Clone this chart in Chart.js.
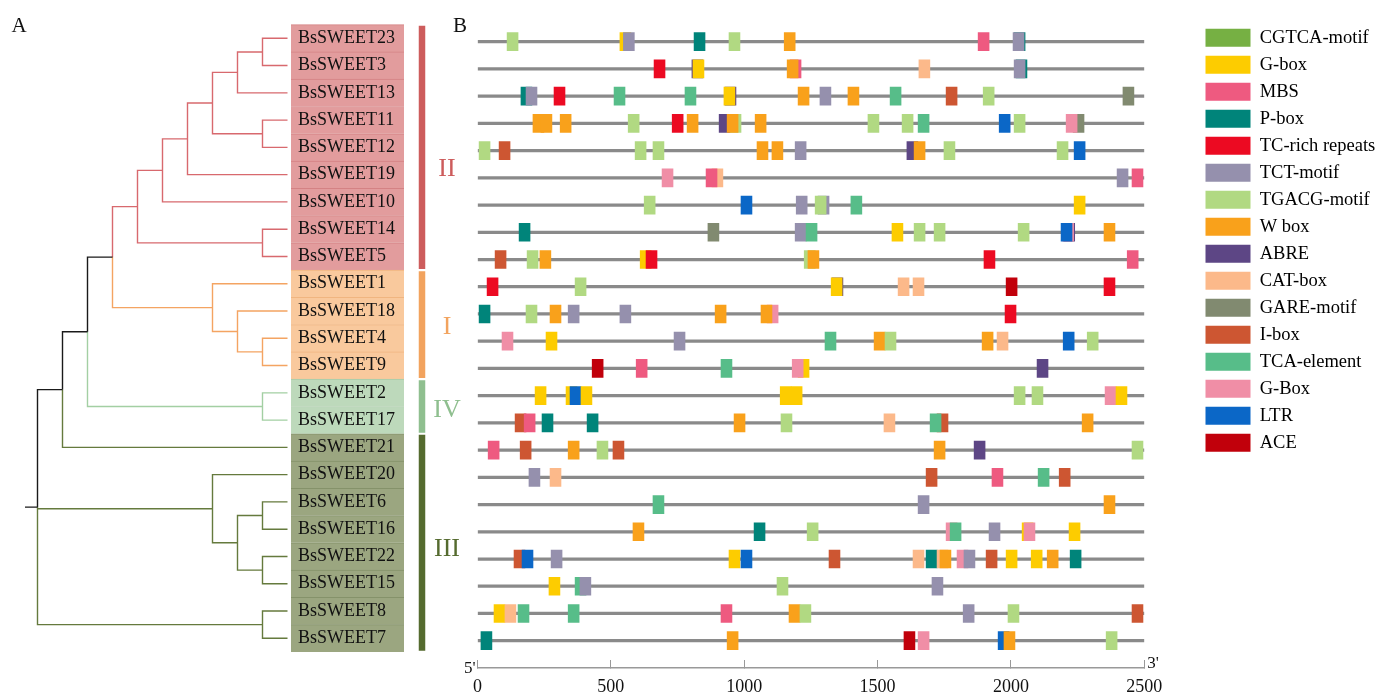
<!DOCTYPE html>
<html>
<head>
<meta charset="utf-8">
<script src="https://cdn.jsdelivr.net/npm/chart.js@4.4.1/dist/chart.umd.min.js"></script>
<style>
  html, body { margin: 0; padding: 0; background: #fff; overflow: hidden; }
  #tree { position: absolute; left: 0; top: 0; }
  #motif { position: absolute; left: 440px; top: 0; }
</style>
</head>
<body>
<canvas id="tree" width="470" height="695"></canvas>
<canvas id="motif" width="937" height="695"></canvas>
<script>
// genes, top to bottom
const genes = [
  "BsSWEET23", "BsSWEET3", "BsSWEET13", "BsSWEET11", "BsSWEET12", "BsSWEET19",
  "BsSWEET10", "BsSWEET14", "BsSWEET5", "BsSWEET1", "BsSWEET18", "BsSWEET4",
  "BsSWEET9", "BsSWEET2", "BsSWEET17", "BsSWEET21", "BsSWEET20", "BsSWEET6",
  "BsSWEET16", "BsSWEET22", "BsSWEET15", "BsSWEET8", "BsSWEET7",
];
const geneClade = [
  "II", "II", "II", "II", "II", "II", "II", "II", "II",
  "I", "I", "I", "I", "IV", "IV",
  "III", "III", "III", "III", "III", "III", "III", "III",
];

// clades
const clades = ["II", "I", "IV", "III"];
const cladeLabelRow = [4.8, 10.6, 13.65, 18.75];
const cladeBranchColor = ["#d8696e", "#f4a462", "#a3cfa3", "#657a3d"];
const cladeBoxColor = ["#e29c9d", "#f9c99d", "#bdd9bb", "#9ba680"];
const cladeBoxLine = ["#d48284", "#f0b580", "#a8caa6", "#85926a"];
const cladeBarColor = ["#cd5c5c", "#f2a35e", "#8fbf8f", "#556b2f"];

// tree: [depth, child, child, ...], leaves sit at depth 11
const tree = [1,
  [2,
    [3,
      [4,
        [5,
          [6,
            [7,
              [8, [9, [10, "BsSWEET23", "BsSWEET3"], "BsSWEET13"], [10, "BsSWEET11", "BsSWEET12"]],
              "BsSWEET19"],
            "BsSWEET10"],
          [10, "BsSWEET14", "BsSWEET5"]],
        [8, "BsSWEET1", [9, "BsSWEET18", [10, "BsSWEET4", "BsSWEET9"]]]],
      [10, "BsSWEET2", "BsSWEET17"]],
    "BsSWEET21"],
  [8, "BsSWEET20", [9, [10, "BsSWEET6", "BsSWEET16"], [10, "BsSWEET22", "BsSWEET15"]]],
  [10, "BsSWEET8", "BsSWEET7"]];

// motif types and colours (legend order)
const motifTypes = [
  "CGTCA-motif", "G-box", "MBS", "P-box", "TC-rich repeats", "TCT-motif",
  "TGACG-motif", "W box", "ABRE", "CAT-box", "GARE-motif", "I-box",
  "TCA-element", "G-Box", "LTR", "ACE",
];
const motifColors = [
  "#76b043", "#fdcc00", "#ee5a80", "#00847a", "#ec0a22", "#9590ad",
  "#b1d982", "#f9a11b", "#5d4685", "#fcb98a", "#818a70", "#cd5632",
  "#57bd89", "#f08ea6", "#0b67c7", "#c1000b",
];
const promoterLength = 2500;
const motifSpan = 41;

// motif start positions per gene (same order as genes), drawn in list order
const motifRows = [
  [[111, "TGACG-motif"], [534, "G-box"], [547, "TCT-motif"], [812, "P-box"], [943, "TGACG-motif"], [1150, "W box"], [1877, "MBS"], [2012, "P-box"], [2008, "TCT-motif"]],
  [[662, "TC-rich repeats"], [804, "ABRE"], [808, "G-box"], [1172, "MBS"], [1161, "W box"], [1655, "CAT-box"], [2019, "P-box"], [2012, "TCT-motif"]],
  [[163, "P-box"], [182, "TCT-motif"], [287, "TC-rich repeats"], [512, "TCA-element"], [778, "TCA-element"], [928, "ABRE"], [924, "G-box"], [1202, "W box"], [1284, "TCT-motif"], [1389, "W box"], [1547, "TCA-element"], [1757, "I-box"], [1896, "TGACG-motif"], [2420, "GARE-motif"]],
  [[208, "W box"], [238, "W box"], [310, "W box"], [565, "TGACG-motif"], [730, "TC-rich repeats"], [786, "W box"], [906, "ABRE"], [947, "TGACG-motif"], [936, "W box"], [1041, "W box"], [1464, "TGACG-motif"], [1592, "TGACG-motif"], [1652, "TCA-element"], [1956, "LTR"], [2012, "TGACG-motif"], [2233, "GARE-motif"], [2207, "G-Box"]],
  [[6, "TGACG-motif"], [81, "I-box"], [591, "TGACG-motif"], [658, "TGACG-motif"], [1048, "W box"], [1104, "W box"], [1191, "TCT-motif"], [1610, "ABRE"], [1637, "W box"], [1749, "TGACG-motif"], [2173, "TGACG-motif"], [2237, "LTR"]],
  [[692, "G-Box"], [879, "CAT-box"], [857, "MBS"], [2398, "TCT-motif"], [2454, "MBS"]],
  [[625, "TGACG-motif"], [988, "LTR"], [1195, "TCT-motif"], [1277, "TCT-motif"], [1266, "TGACG-motif"], [1400, "TCA-element"], [2237, "G-box"]],
  [[156, "P-box"], [864, "GARE-motif"], [1191, "TCT-motif"], [1232, "TCA-element"], [1554, "G-box"], [1637, "TGACG-motif"], [1712, "TGACG-motif"], [2027, "TGACG-motif"], [2198, "ABRE"], [2194, "G-Box"], [2188, "LTR"], [2349, "W box"]],
  [[66, "I-box"], [186, "TGACG-motif"], [234, "W box"], [610, "G-box"], [632, "TC-rich repeats"], [1225, "TGACG-motif"], [1239, "W box"], [1899, "TC-rich repeats"], [2436, "MBS"]],
  [[36, "TC-rich repeats"], [366, "TGACG-motif"], [1329, "ABRE"], [1326, "G-box"], [1577, "CAT-box"], [1633, "CAT-box"], [1982, "ACE"], [2349, "TC-rich repeats"]],
  [[6, "P-box"], [182, "TGACG-motif"], [272, "W box"], [340, "TCT-motif"], [534, "TCT-motif"], [891, "W box"], [1086, "G-Box"], [1063, "W box"], [1978, "TC-rich repeats"]],
  [[92, "G-Box"], [257, "G-box"], [737, "TCT-motif"], [1303, "TCA-element"], [1487, "W box"], [1528, "TGACG-motif"], [1892, "W box"], [1948, "CAT-box"], [2196, "LTR"], [2286, "TGACG-motif"]],
  [[430, "ACE"], [595, "MBS"], [913, "TCA-element"], [1202, "G-box"], [1180, "G-Box"], [2098, "ABRE"]],
  [[216, "G-box"], [332, "G-box"], [347, "LTR"], [388, "G-box"], [1135, "G-box"], [1176, "G-box"], [2012, "TGACG-motif"], [2079, "TGACG-motif"], [2353, "G-Box"], [2394, "G-box"]],
  [[141, "I-box"], [175, "MBS"], [242, "P-box"], [411, "P-box"], [962, "W box"], [1138, "TGACG-motif"], [1524, "CAT-box"], [1723, "I-box"], [1697, "TCA-element"], [2267, "W box"]],
  [[40, "MBS"], [160, "I-box"], [340, "W box"], [448, "TGACG-motif"], [508, "I-box"], [1712, "W box"], [1862, "ABRE"], [2454, "TGACG-motif"]],
  [[193, "TCT-motif"], [272, "CAT-box"], [1682, "I-box"], [1929, "MBS"], [2102, "TCA-element"], [2181, "I-box"]],
  [[658, "TCA-element"], [1652, "TCT-motif"], [2349, "W box"]],
  [[583, "W box"], [1037, "P-box"], [1236, "TGACG-motif"], [1757, "G-Box"], [1772, "TCA-element"], [1918, "TCT-motif"], [2042, "G-box"], [2049, "G-Box"], [2218, "G-box"]],
  [[137, "I-box"], [167, "LTR"], [276, "TCT-motif"], [943, "G-box"], [988, "LTR"], [1318, "I-box"], [1633, "CAT-box"], [1682, "P-box"], [1723, "CAT-box"], [1734, "W box"], [1798, "G-Box"], [1824, "TCT-motif"], [1907, "I-box"], [1982, "G-box"], [2076, "G-box"], [2136, "W box"], [2222, "P-box"]],
  [[268, "G-box"], [366, "TCA-element"], [384, "TCT-motif"], [1123, "TGACG-motif"], [1704, "TCT-motif"]],
  [[62, "G-box"], [103, "CAT-box"], [152, "TCA-element"], [340, "TCA-element"], [913, "MBS"], [1168, "W box"], [1209, "TGACG-motif"], [1821, "TCT-motif"], [1989, "TGACG-motif"], [2454, "I-box"]],
  [[13, "P-box"], [936, "W box"], [1599, "ACE"], [1652, "G-Box"], [1952, "LTR"], [1974, "W box"], [2357, "TGACG-motif"]],
];

const serif = "'Liberation Serif', 'Times New Roman', serif";

// ---------- panel A: tree ----------
const leafDepth = 11;
const boxFrom = 11.14;
const boxTo = 15.66;
const cladeBarX = 16.38;
const cladeTextX = 17.38;

function layoutTree(node) {
  if (typeof node === "string") {
    const i = genes.indexOf(node);
    return { x: leafDepth, y: i, clades: [geneClade[i]], children: [] };
  }
  const [depth, ...kids] = node;
  const children = kids.map(layoutTree);
  const y = (children[0].y + children[children.length - 1].y) / 2;
  const cl = [...new Set(children.flatMap((c) => c.clades))];
  return { x: depth, y: y, clades: cl, children: children };
}

const root = layoutTree(tree);
const branchSets = {};
function addPath(color, pts) {
  if (!branchSets[color]) branchSets[color] = [];
  branchSets[color].push(...pts, { x: null, y: null });
}
function collectBranches(n) {
  n.children.forEach((c) => {
    const color = c.clades.length === 1 ? cladeBranchColor[clades.indexOf(c.clades[0])] : "#1a1a1a";
    addPath(color, [{ x: n.x, y: n.y }, { x: n.x, y: c.y }, { x: c.x, y: c.y }]);
    collectBranches(c);
  });
}
addPath("#1a1a1a", [{ x: 0.5, y: root.y }, { x: root.x, y: root.y }]);
collectBranches(root);

const treeDatasets = [];
Object.keys(branchSets).forEach((color) => {
  treeDatasets.push({
    type: "line",
    data: branchSets[color],
    borderColor: color,
    borderWidth: 1.4,
    pointRadius: 0,
    spanGaps: false,
    tension: 0,
    borderJoinStyle: "miter",
    order: 1,
  });
});

// clade bars
clades.forEach((cl, k) => {
  const rows = genes.map((g, i) => i).filter((i) => geneClade[i] === cl);
  treeDatasets.push({
    type: "line",
    data: [{ x: cladeBarX, y: rows[0] - 0.46 }, { x: cladeBarX, y: rows[rows.length - 1] + 0.46 }],
    borderColor: cladeBarColor[k],
    borderWidth: 6.5,
    borderCapStyle: "butt",
    pointRadius: 0,
    order: 1,
  });
});

// label boxes
treeDatasets.push({
  type: "bar",
  data: genes.map((g, i) => ({ x: [boxFrom, boxTo], y: i })),
  backgroundColor: geneClade.map((c) => cladeBoxColor[clades.indexOf(c)]),
  borderColor: geneClade.map((c) => cladeBoxLine[clades.indexOf(c)]),
  borderWidth: { top: 1, bottom: 0, left: 0, right: 0 },
  borderSkipped: false,
  barThickness: 27.27,
  grouped: false,
  order: 3,
});

const treeText = {
  id: "treeText",
  afterDatasetsDraw(chart) {
    const { ctx, scales } = chart;
    ctx.save();
    ctx.textBaseline = "middle";
    ctx.textAlign = "left";
    ctx.fillStyle = "#111";
    ctx.font = "18px " + serif;
    genes.forEach((g, i) => {
      ctx.fillText(g, scales.x.getPixelForValue(boxFrom) + 7, scales.y.getPixelForValue(i));
    });
    ctx.textAlign = "center";
    ctx.font = "26px " + serif;
    clades.forEach((cl, k) => {
      ctx.fillStyle = cladeBarColor[k];
      ctx.fillText(cl, scales.x.getPixelForValue(cladeTextX), scales.y.getPixelForValue(cladeLabelRow[k]));
    });
    ctx.fillStyle = "#111";
    ctx.font = "21px " + serif;
    ctx.fillText("A", 19, 26);
    ctx.fillText("B", 460, 26);
    ctx.restore();
  },
};

new Chart(document.getElementById("tree"), {
  type: "bar",
  data: { datasets: treeDatasets },
  options: {
    indexAxis: "y",
    responsive: false,
    animation: false,
    events: [],
    layout: { padding: 0 },
    plugins: { legend: { display: false }, tooltip: { enabled: false } },
    scales: {
      x: { type: "linear", min: -0.5, max: 18.3, display: false },
      y: { type: "linear", min: -1.404, max: 24.08, reverse: true, offset: false, display: false },
    },
  },
  plugins: [treeText],
});

// ---------- panel B: motifs ----------
const backbone = genes.map((g, i) => ({ x: [0, promoterLength], y: i }));
const motifData = [];
const motifFill = [];
motifRows.forEach((row, i) => {
  row.forEach(([start, type]) => {
    motifData.push({ x: [start, start + motifSpan], y: i });
    motifFill.push(motifColors[motifTypes.indexOf(type)]);
  });
});

const endLabels = {
  id: "endLabels",
  afterDraw(chart) {
    const { ctx, chartArea } = chart;
    ctx.save();
    ctx.fillStyle = "#111";
    ctx.font = "17px " + serif;
    ctx.textBaseline = "middle";
    ctx.textAlign = "right";
    ctx.fillText("5'", chartArea.left - 2, chartArea.bottom + 1);
    ctx.textAlign = "left";
    ctx.fillText("3'", chartArea.right + 3, chartArea.bottom - 4);
    ctx.restore();
  },
};

new Chart(document.getElementById("motif"), {
  type: "bar",
  data: {
    datasets: [
      {
        data: motifData,
        backgroundColor: motifFill,
        borderWidth: 0,
        barThickness: 18,
        grouped: false,
        order: 1,
      },
      {
        data: backbone,
        backgroundColor: "#8a8a8a",
        borderWidth: 0,
        barThickness: 2.6,
        grouped: false,
        order: 2,
      },
    ],
  },
  options: {
    indexAxis: "y",
    responsive: false,
    animation: false,
    events: [],
    layout: { padding: { left: 37.5, top: 20, right: 0, bottom: 0 } },
    plugins: {
      tooltip: { enabled: false },
      legend: {
        position: "right",
        align: "start",
        fullSize: false,
        maxWidth: 180,
        labels: {
          boxWidth: 45,
          boxHeight: 18,
          padding: 8.5,
          color: "#1a1a1a",
          font: { family: serif, size: 18.5 },
          generateLabels: () =>
            motifTypes.map((t, i) => ({
              text: t,
              fillStyle: motifColors[i],
              strokeStyle: motifColors[i],
              lineWidth: 0,
              hidden: false,
              datasetIndex: 0,
            })),
        },
      },
    },
    scales: {
      x: {
        type: "linear",
        position: "bottom",
        min: 0,
        max: promoterLength,
        ticks: {
          stepSize: 500,
          padding: 16,
          color: "#111",
          maxRotation: 0,
          font: { family: serif, size: 18 },
          callback: (v) => String(v),
        },
        grid: { drawOnChartArea: false, drawTicks: true, tickLength: -8, color: "#999", lineWidth: 1 },
        border: { display: true, color: "#999", width: 1.5 },
        afterFit(s) { s.height = 27; },
      },
      y: { type: "linear", min: -0.797, max: 23.003, reverse: true, offset: false, display: false },
      yR: {
        type: "linear",
        position: "right",
        display: true,
        grid: { display: false },
        border: { display: false },
        ticks: { display: false },
        afterFit(s) { s.width = 52.7; },
      },
    },
  },
  plugins: [endLabels],
});
</script>
</body>
</html>
